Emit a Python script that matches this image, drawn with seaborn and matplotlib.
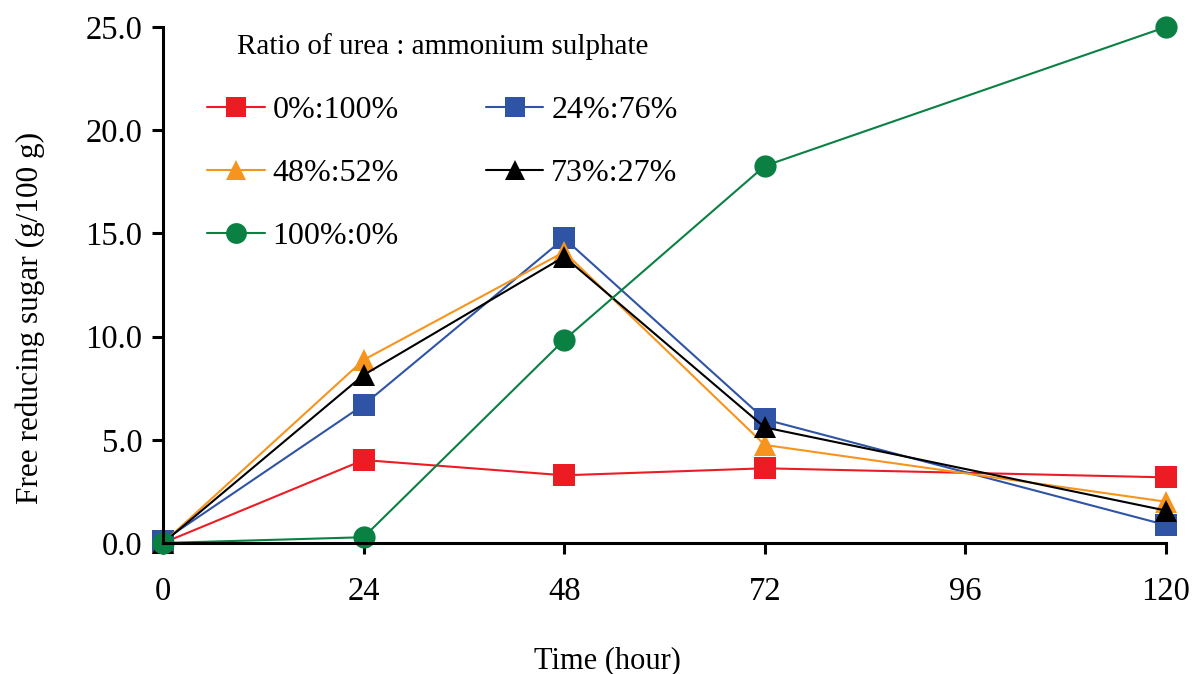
import numpy as np
import pandas as pd
import matplotlib
matplotlib.use("Agg")
import matplotlib.pyplot as plt
from matplotlib.lines import Line2D
import seaborn as sns

# Sampling times (hours)
hours = [0, 24, 48, 72, 120]

# Free reducing sugar (g/100 g) for each urea : ammonium sulphate ratio
r0_100 = [0.0, 4.02, 3.28, 3.62, 3.18]
r24_76 = [0.1, 6.69, 14.76, 5.99, 0.87]
r48_52 = [0.0, 8.87, 14.10, 4.75, 2.00]
r73_27 = [0.0, 8.14, 13.87, 5.60, 1.57]
r100_0 = [0.0, 0.28, 9.84, 18.27, 25.00]

labels = ["0%:100%", "24%:76%", "48%:52%", "73%:27%", "100%:0%"]
series = [r0_100, r24_76, r48_52, r73_27, r100_0]
colors = ["#ED1C24", "#2F54A5", "#F7941D", "#000000", "#0B8043"]
markers = ["s", "s", "^", "^", "o"]

x_ticks = [0, 24, 48, 72, 96, 120]
y_ticks = [0, 5, 10, 15, 20, 25]

df = pd.DataFrame({
    "Time": np.tile(hours, len(labels)),
    "Sugar": np.concatenate(series),
    "Ratio": np.repeat(labels, len(hours)),
})

sns.set_theme(style="ticks")
plt.rcParams["font.family"] = ["Liberation Serif", "DejaVu Serif"]
plt.rcParams["text.color"] = "black"
plt.rcParams["axes.labelcolor"] = "black"

fig = plt.figure(figsize=(11.93, 6.74), dpi=100)
ax = fig.add_axes([163 / 1193, 1 - 543 / 674, (1166 - 163) / 1193, (543 - 27) / 674])

sns.lineplot(
    data=df, x="Time", y="Sugar", hue="Ratio", style="Ratio",
    hue_order=labels, style_order=labels,
    palette=dict(zip(labels, colors)),
    markers=dict(zip(labels, markers)),
    dashes=False, markersize=16, markeredgewidth=0, linewidth=1.5,
    legend=False, ax=ax,
)
for ln in ax.lines:
    ln.set_clip_on(False)

ax.set_xlim(0, 120)
ax.set_ylim(0, 25)
ax.set_xticks(x_ticks)
ax.set_xticklabels([str(v) for v in x_ticks])
ax.set_yticks(y_ticks)
ax.set_yticklabels([f"{v:.1f}" for v in y_ticks])

for side in ["top", "right"]:
    ax.spines[side].set_visible(False)
for side in ["left", "bottom"]:
    ax.spines[side].set_linewidth(2.2)
    ax.spines[side].set_color("black")
ax.tick_params(axis="both", direction="out", length=8, width=2.2,
               labelsize=23.5, colors="black")
ax.tick_params(axis="x", pad=16)
ax.tick_params(axis="y", pad=7)

ax.set_xlabel("Time (hour)", fontsize=22)
ax.set_ylabel("Free reducing sugar (g/100 g)", fontsize=22.5)
ax.xaxis.set_label_coords(0.443, -0.2)
ax.yaxis.set_label_coords(-0.118, 0.436)

# Legend: two columns, filled column by column
handles = {
    lab: Line2D([], [], color=c, marker=m, markersize=15, markeredgewidth=0, linewidth=1.5)
    for lab, c, m in zip(labels, colors, markers)
}
order = ["0%:100%", "48%:52%", "100%:0%", "24%:76%", "73%:27%"]
leg = ax.legend(
    [handles[k] for k in order], order, ncol=2,
    title="Ratio of urea : ammonium sulphate", title_fontsize=21, fontsize=23,
    frameon=False, loc="upper left", bbox_to_anchor=(207 / 1193, 1 - 33 / 674),
    bbox_transform=fig.transFigure, handlelength=1.8, handletextpad=0.25,
    columnspacing=2.72, labelspacing=1.05, borderaxespad=0, borderpad=0,
)
leg._legend_box.sep = 26

fig.savefig("out.png", dpi=100)
